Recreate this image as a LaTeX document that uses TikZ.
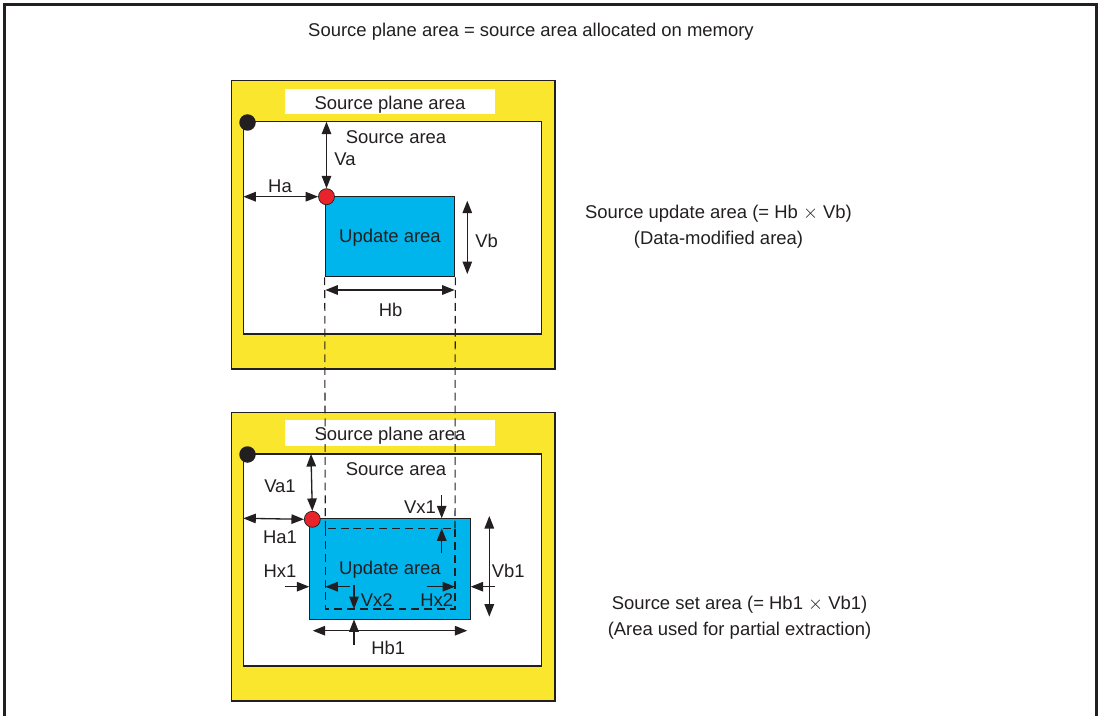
\documentclass[tikz,border=0pt]{standalone}
\usepackage{fontspec}
\setmainfont{Liberation Sans}
\usetikzlibrary{arrows.meta}
\definecolor{SPYellow}{HTML}{FBE62E}
\definecolor{SPBlue}{HTML}{00B4EC}
\definecolor{SPRed}{HTML}{E8242A}
\definecolor{SPInk}{HTML}{231F20}

\tikzset{
  dimline/.style={draw=SPInk, line width=0.75pt, {Triangle[length=2.5mm,width=1.9mm]}-{Triangle[length=2.5mm,width=1.9mm]}},
  tipline/.style={draw=SPInk, line width=0.75pt, -{Triangle[length=2.5mm,width=1.9mm]}},
  lbl/.style={font=\fontsize{10.5}{14.7}\selectfont, text=SPInk, inner sep=0pt},
  guide/.style={draw=SPInk, line width=0.6pt, dash pattern=on 4.5pt off 2.8pt},
  plane/.style={draw=SPInk, line width=0.7pt},
  updbox/.style={lbl, draw=SPInk, line width=0.7pt, fill=SPBlue, minimum width=#1},
  origin/.style={circle, draw=SPInk, line width=0.4pt, fill=SPRed, minimum size=0.32cm, inner sep=0pt},
  corner/.style={circle, fill=SPInk, minimum size=0.33cm, inner sep=0pt}
}

\begin{document}
\begin{tikzpicture}[x=0.02cm,y=-0.02cm]
\path[use as bounding box] (0,0) rectangle (1102,716);
\draw[SPInk, line width=1.2pt] (4.5,716) -- (4.5,4.5) -- (1096.5,4.5) -- (1096.5,716);
\node[lbl] (title) at (531,32) {Source plane area = source area allocated on memory};

% upper plane: update area
\draw[plane, fill=SPYellow] (231.7,80.7) rectangle (555,369);
\fill[white] (285,89.3) rectangle (495,114.3);
\node[lbl] (tagA) at (390,104.5) {Source plane area};
\draw[plane, fill=white] (243.3,121.7) rectangle (541.7,334);
\node[corner] (dotA) at (247.5,122.5) {};
\node[lbl] (srcA) at (396,137.5) {Source area};
\node[updbox=2.588cm, minimum height=1.6cm] (updA) at (390,236.7) {};
\node[lbl] (updTxtA) at (390,238) {Update area};
\node[origin] (redA) at (326.5,196.7) {};

\coordinate (vaTop) at (326.5,121.7);
\coordinate (haLeft) at (243.3,196.7);
\coordinate (vbTop) at (467.3,200.7);
\coordinate (vbBot) at (467.3,274);
\coordinate (hbLeft) at (325.3,290);
\coordinate (hbRight) at (454.7,290);
\draw[dimline] (vaTop) -- (redA.north);
\draw[dimline] (haLeft) -- (redA.west);
\draw[dimline] (vbTop) -- (vbBot);
\draw[dimline] (hbLeft) -- (hbRight);
\node[lbl] (va) at (345,159) {Va};
\node[lbl] (ha) at (280,186) {Ha};
\node[lbl] (vb) at (486.7,241) {Vb};
\node[lbl] (hb) at (390.7,310) {Hb};
\node[lbl, align=center] (noteA) at (718.5,227) {Source update area (= Hb $\times$ Vb)\\(Data-modified area)};

% lower plane: set area
\draw[plane, fill=SPYellow] (231.7,412.7) rectangle (555,701);
\fill[white] (285,420) rectangle (495,445.7);
\node[lbl] (tagB) at (390,436) {Source plane area};
\draw[plane, fill=white] (243.3,454) rectangle (541.7,666);
\node[corner] (dotB) at (247.5,454.5) {};
\node[lbl] (srcB) at (396,469) {Source area};
\node[updbox=3.228cm, minimum height=2.02cm] (updB) at (390,568.8) {};
\node[lbl] (updTxtB) at (390,570) {Update area};
\node[origin] (redB) at (312.3,519.3) {};

% guides carried down from the update area
\coordinate (setNW) at (325.3,528.3);
\coordinate (setSE) at (455,609);
\draw[guide] (updA.south west) -- (setNW);
\draw[guide] (updA.south east) -- (455,528.3);
\draw[guide] (setNW) rectangle (setSE);

\coordinate (va1Top) at (311,454);
\coordinate (ha1Left) at (243.3,518.3);
\coordinate (vb1Top) at (489.3,516);
\coordinate (vb1Bot) at (489.3,616.7);
\coordinate (hb1Left) at (312.7,630.7);
\coordinate (hb1Right) at (467.3,630.7);
\draw[dimline] (va1Top) -- (redB.north);
\draw[dimline] (ha1Left) -- (redB.west);
\draw[dimline] (vb1Top) -- (vb1Bot);
\draw[dimline] (hb1Left) -- (hb1Right);

\coordinate (vx1a) at (441.7,495);
\coordinate (vx1b) at (441.7,518.3);
\coordinate (vx1c) at (441.7,553.3);
\coordinate (vx1d) at (441.7,528.3);
\coordinate (hx1a) at (285,586.7);
\coordinate (hx1b) at (309.3,586.7);
\coordinate (hx1c) at (350,586.7);
\coordinate (hx1d) at (325.3,586.7);
\coordinate (vx2a) at (354,585);
\coordinate (vx2b) at (354,609);
\coordinate (vx2c) at (354,645);
\coordinate (vx2d) at (354,619.3);
\coordinate (hx2a) at (426.7,586.7);
\coordinate (hx2b) at (455,586.7);
\coordinate (hx2c) at (495,586.7);
\coordinate (hx2d) at (470.7,586.7);
\draw[tipline] (vx1a) -- (vx1b);
\draw[tipline] (vx1c) -- (vx1d);
\draw[tipline] (hx1a) -- (hx1b);
\draw[tipline] (hx1c) -- (hx1d);
\draw[tipline] (vx2a) -- (vx2b);
\draw[tipline] (vx2c) -- (vx2d);
\draw[tipline] (hx2a) -- (hx2b);
\draw[tipline] (hx2c) -- (hx2d);

\node[lbl] (va1) at (280,486) {Va1};
\node[lbl] (ha1) at (280,537) {Ha1};
\node[lbl] (vx1) at (420,507) {Vx1};
\node[lbl] (hx1) at (280,571) {Hx1};
\node[lbl] (vx2) at (376.7,600) {Vx2};
\node[lbl] (hx2) at (436.7,600) {Hx2};
\node[lbl] (vb1) at (508.3,571) {Vb1};
\node[lbl] (hb1) at (388.3,647.5) {Hb1};
\node[lbl, align=center] (noteB) at (739.5,617.5) {Source set area (= Hb1 $\times$ Vb1)\\(Area used for partial extraction)};
\end{tikzpicture}
\end{document}
